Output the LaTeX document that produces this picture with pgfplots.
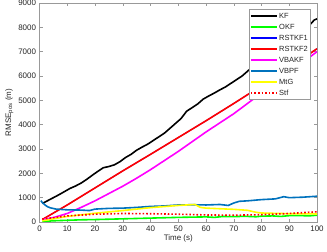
\documentclass[border=0pt]{standalone}
\usepackage{pgfplots}
\pgfplotsset{compat=1.18}
\usepackage{fontspec}
\setmainfont{Liberation Sans}
\definecolor{vbpf}{rgb}{0,0.447,0.741}
\definecolor{cK}{rgb}{0,0,0}
\definecolor{cG}{rgb}{0,1,0}
\definecolor{cB}{rgb}{0,0,1}
\definecolor{cR}{rgb}{1,0,0}
\definecolor{cM}{rgb}{1,0,1}
\definecolor{cY}{rgb}{1,1,0}
\definecolor{axgray}{rgb}{0.6,0.6,0.6}
\definecolor{txtgray}{rgb}{0.15,0.15,0.15}
\begin{document}
\begin{tikzpicture}
\useasboundingbox (0,0) rectangle (327bp,252bp);
\begin{axis}[
  at={(39.5bp,30bp)}, anchor=south west,
  scale only axis, width=277.5bp, height=219bp,
  xmin=0, xmax=100, ymin=0, ymax=9000,
  xtick={0,10,...,100}, ytick={0,1000,...,9000},
  tick align=inside, tick pos=both,
  major tick length=3bp,
  axis line style={axgray, line width=1bp},
  tick style={axgray, line width=0.5bp},
  /pgf/number format/assume math mode=true,
  scaled y ticks=false,
  yticklabel style={/pgf/number format/1000 sep={}, font=\fontsize{8}{9}\selectfont, text=txtgray},
  xticklabel style={font=\fontsize{8}{9}\selectfont, text=txtgray},
  xlabel={Time (s)}, ylabel={RMSE\textsubscript{pos} (m)},
  xlabel style={font=\fontsize{8}{9}\selectfont, text=txtgray, yshift=3bp},
  ylabel style={font=\fontsize{8}{9}\selectfont, text=txtgray, yshift=-2bp},
  legend style={at={(0.977,0.971)}, anchor=north east, font=\fontsize{7.5}{8}\selectfont,
    draw=axgray, line width=0.5bp, inner xsep=1bp, inner ysep=1bp, row sep=0bp,
    nodes={inner sep=1.5bp, text height=6bp, text depth=2bp},
    cells={anchor=west}, text=txtgray},
  legend image code/.code={\draw[#1, line width=1.8bp] (0bp,0bp) -- (26bp,0bp);},
]
% KF
\addplot[cK, line width=1.6bp] coordinates {(1,760)(3,880)(5,1000)(7,1120)(9,1250)(11,1380)(13,1480)(15,1600)(17,1750)(19,1920)(21,2080)(23,2230)(25,2280)(27,2350)(29,2480)(31,2650)(33,2780)(35,2950)(37,3080)(39,3200)(41,3350)(43,3500)(45,3650)(47,3850)(49,4050)(51,4250)(53,4550)(55,4700)(57,4850)(59,5050)(61,5180)(63,5300)(65,5430)(67,5550)(69,5700)(71,5850)(73,6000)(75,6200)(77,6400)(79,6550)(81,6700)(83,6850)(85,7000)(87,7150)(89,7300)(91,7450)(93,7600)(95,7800)(97,8050)(99,8300)(100,8350)};
\addlegendentry{KF}
% OKF
\addplot[cG, line width=1.6bp] coordinates {(1,20)(5,50)(10,70)(15,90)(20,100)(25,115)(30,130)(35,145)(40,160)(45,175)(50,190)(55,200)(60,210)(63,190)(66,225)(70,220)(74,235)(78,215)(80,240)(84,250)(87,230)(90,260)(94,265)(97,250)(100,280)};
\addlegendentry{OKF}
% RSTKF1 (hidden under RSTKF2)
\addplot[cB, line width=1.0bp] coordinates {(1,100)(10,700)(20,1400)(30,2100)(40,2780)(50,3470)(60,4160)(70,4870)(80,5600)(90,6350)(100,7120)};
\addlegendentry{RSTKF1}
% RSTKF2
\addplot[cR, line width=1.6bp] coordinates {(1,100)(10,700)(20,1400)(30,2100)(40,2780)(50,3470)(60,4160)(70,4870)(80,5600)(90,6350)(100,7120)};
\addlegendentry{RSTKF2}
% VBAKF
\addplot[cM, line width=1.6bp] coordinates {(1,100)(5,180)(10,350)(15,600)(20,870)(25,1170)(30,1470)(35,1800)(40,2150)(50,2900)(60,3700)(70,4450)(80,5300)(90,6150)(100,7000)};
\addlegendentry{VBAKF}
% VBPF
\addplot[vbpf, line width=1.6bp] coordinates {(0.5,880)(1,800)(2,700)(3,620)(4,580)(6,530)(10,500)(15,490)(18,470)(20,530)(25,560)(30,570)(35,600)(40,640)(45,660)(50,700)(55,710)(60,700)(65,720)(68,680)(70,780)(72,850)(75,870)(80,920)(85,950)(88,1040)(90,1000)(95,1020)(100,1060)};
\addlegendentry{VBPF}
% MtG
\addplot[cY, line width=1.6bp] coordinates {(1,50)(10,230)(20,360)(30,470)(40,590)(50,680)(56,720)(58,600)(60,570)(70,520)(75,480)(78,400)(80,370)(90,340)(100,330)};
\addlegendentry{MtG}
% Stf
\addplot[cR, line width=1.6bp, dotted] coordinates {(1,120)(10,250)(20,320)(30,350)(40,340)(50,320)(60,290)(70,280)(80,300)(90,350)(100,420)};
\addlegendentry{Stf}
\end{axis}
\end{tikzpicture}
\end{document}
